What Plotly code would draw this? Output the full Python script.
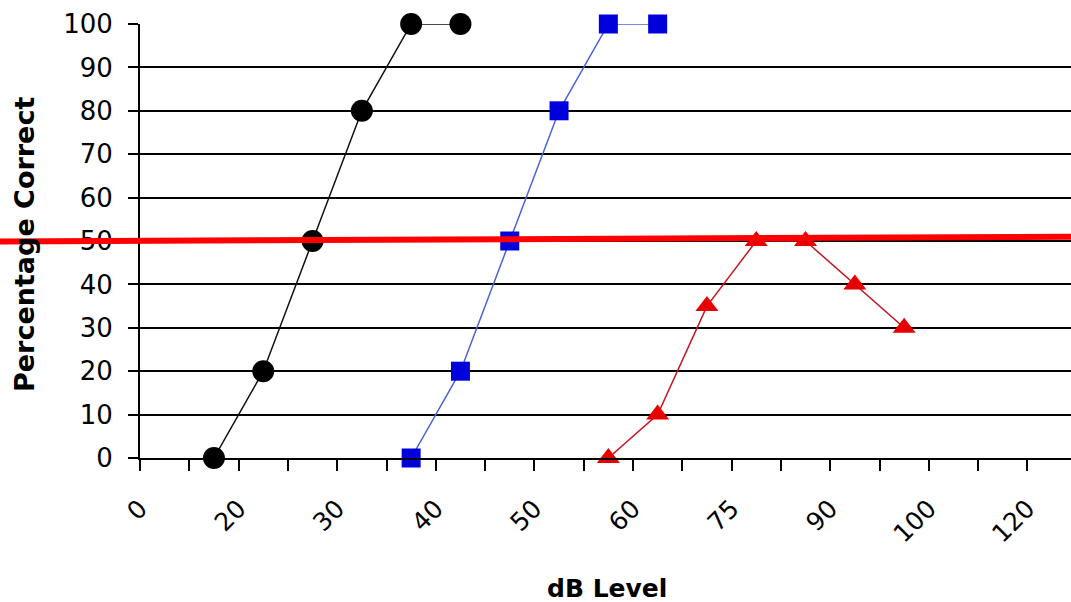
import plotly.graph_objects as go

# ---- data ----
tick_labels = ["0", "20", "30", "40", "50", "60", "75", "90", "100", "120"]
n_slots = 18                                             # category boundaries drawn

black_pos = [1, 2, 3, 4, 5, 6]
black_pct = [0, 20, 50, 80, 100, 100]

blue_pos = [5, 6, 7, 8, 9, 10]
blue_pct = [0, 20, 50, 80, 100, 100]

red_pos = [9, 10, 11, 12, 13, 14, 15]
red_pct = [0, 10, 35, 50, 50, 40, 30]

threshold = 50
y_ticks = list(range(0, 101, 10))

FONT = "DejaVu Sans"
W, H = 1071, 602
# desired plot area in page pixels
PL, PT, PB, PR = 140, 24, 458, 1071
L, T = PL, PT
R = W - PR
B = H - PB
PW, PH = W - L - R, H - T - B

fig = go.Figure()
fig.add_trace(go.Scatter(
    x=black_pos, y=black_pct, mode="lines+markers", cliponaxis=False,
    line=dict(color="#111111", width=1.5),
    marker=dict(symbol="circle", size=22, color="#000000"),
    showlegend=False))
fig.add_trace(go.Scatter(
    x=blue_pos, y=blue_pct, mode="lines+markers", cliponaxis=False,
    line=dict(color="#4a64d8", width=1.5),
    marker=dict(symbol="square", size=19, color="#0000dd"),
    showlegend=False))
fig.add_trace(go.Scatter(
    x=red_pos, y=red_pct, mode="lines+markers", cliponaxis=False,
    line=dict(color="#c8141e", width=1.5),
    marker=dict(symbol="triangle-up", size=20, color="#e60000"),
    showlegend=False))

x_range = [-0.5, -0.5 + PW / 49.3]
boundaries = [b - 0.5 for b in range(0, n_slots + 1)]
ticktext = []
for i in range(len(boundaries)):
    ticktext.append(tick_labels[i // 2] if i % 2 == 0 and i // 2 < len(tick_labels) else "")


def px_x(page_x):
    return (page_x - PL) / PW


def px_y(page_y):
    return (PB - page_y) / PH


fig.update_layout(
    width=W, height=H,
    margin=dict(l=L, r=R, t=T, b=B, autoexpand=False),
    paper_bgcolor="white", plot_bgcolor="white",
    font=dict(family=FONT, color="black"),
    xaxis=dict(
        range=x_range, tickmode="array", tickvals=boundaries, ticktext=ticktext,
        automargin=False, tickangle=-45, ticklabelstandoff=13,
        tickfont=dict(size=25, family=FONT),
        ticks="outside", ticklen=11, tickwidth=2,
        tickcolor="black", showline=True, linecolor="black", linewidth=2,
        showgrid=False, zeroline=False,
    ),
    yaxis=dict(
        range=[0, 100], tickmode="array", tickvals=y_ticks, automargin=False,
        ticks="outside", ticklen=10, tickwidth=2, tickcolor="black",
        showline=True, linecolor="black", linewidth=2, ticklabelstandoff=10,
        showgrid=True, gridcolor="black", gridwidth=2, zeroline=False,
        tickfont=dict(size=26, family=FONT),
    ),
    annotations=[
        dict(text="<b>dB Level</b>", xref="paper", yref="paper",
             x=px_x(607), y=px_y(588), xanchor="center", yanchor="middle",
             showarrow=False, font=dict(size=25, family=FONT)),
        dict(text="<b>Percentage Correct</b>", xref="paper", yref="paper",
             x=px_x(25), y=px_y(245), xanchor="center", yanchor="middle",
             textangle=-90, showarrow=False, font=dict(size=27, family=FONT)),
    ],
    shapes=[dict(
        type="line", xref="paper", yref="y",
        x0=px_x(0), x1=1.0, y0=threshold - 0.1, y1=threshold + 1.0,
        line=dict(color="#ff0000", width=6), layer="above")],
)

fig.write_html(
    "out.html",
    config={"displayModeBar": False},
    post_script="document.body.style.margin='0';document.body.style.overflow='hidden';",
)
